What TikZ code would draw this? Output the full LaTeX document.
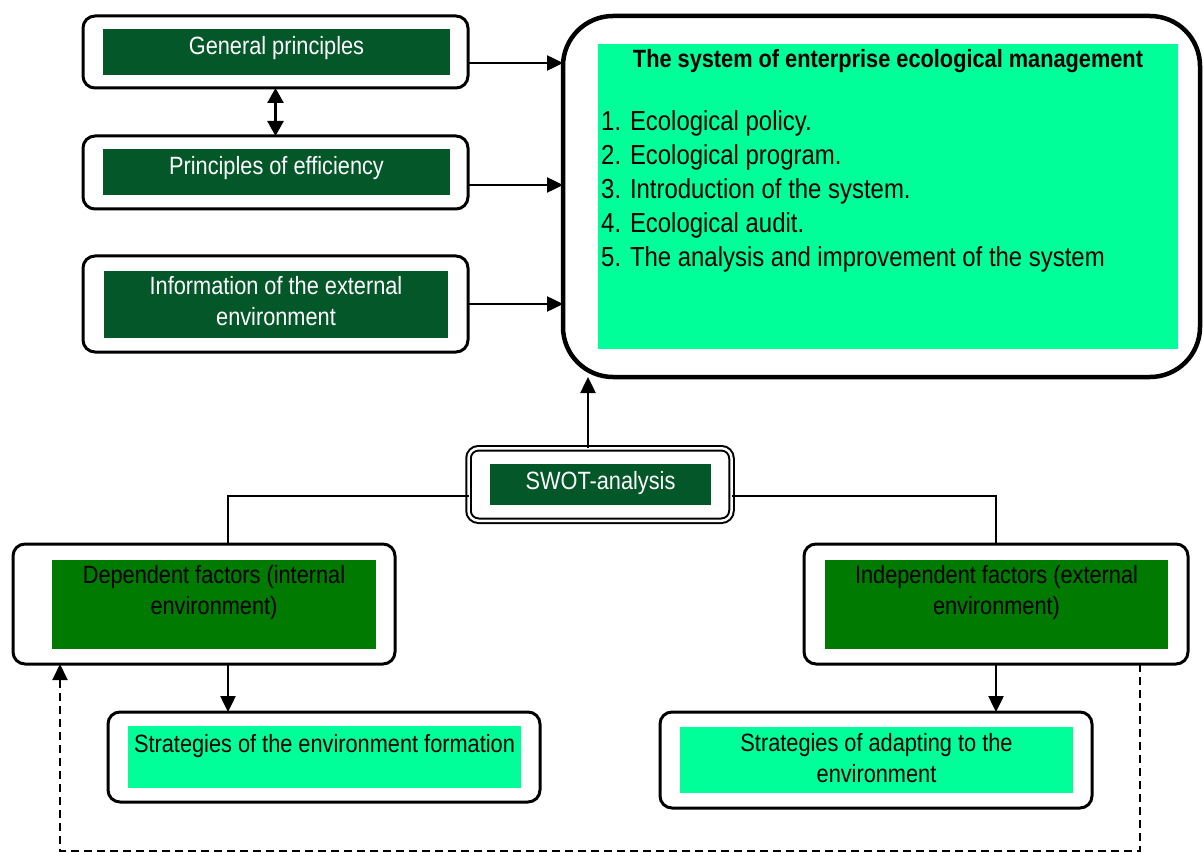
\documentclass[tikz,border=0pt]{standalone}
\usepackage{fontspec}
\setmainfont{Liberation Sans}[FakeStretch=0.87]
\usetikzlibrary{arrows.meta}
\definecolor{dkgreen}{RGB}{3,87,40}
\definecolor{midgreen}{RGB}{0,122,0}
\definecolor{ltgreen}{RGB}{0,255,153}
\begin{document}
\begin{tikzpicture}[x=1pt,y=-1pt,
  outerbox/.style={draw=black, line width=3pt, rounded corners=12pt, fill=white, inner sep=0pt, outer sep=0pt},
  fillbox/.style={draw=none, inner sep=0pt, outer sep=0pt},
  txt/.style={font=\fontsize{25}{31}\selectfont, align=center, anchor=base, inner sep=0pt},
  arr/.style={line width=2.5pt, -{Triangle[length=16pt,width=15pt]}},
  arrboth/.style={line width=2.5pt, {Triangle[length=15pt,width=16pt]}-{Triangle[length=15pt,width=16pt]}},
  link/.style={line width=1.8pt},
  dashlink/.style={line width=2pt, dash pattern=on 8pt off 5pt, -{Triangle[length=16pt,width=15pt]}}]
\useasboundingbox (0,0) rectangle (1203,853);

% ---- top-left boxes ----
\node[outerbox, minimum width=385pt, minimum height=72pt] (gp) at (275.5,52) {};
\node[fillbox, fill=dkgreen, minimum width=347pt, minimum height=46pt] (gpf) at (276.5,52) {};
\node[txt, text=white] (gpt) at (276.5,55) {General principles};

\node[outerbox, minimum width=385pt, minimum height=73pt] (pe) at (275.5,172.5) {};
\node[fillbox, fill=dkgreen, minimum width=347pt, minimum height=46pt] (pef) at (276.5,172) {};
\node[txt, text=white] (pet) at (276.5,175) {Principles of efficiency};

\node[outerbox, minimum width=385pt, minimum height=96pt] (ie) at (275.5,304) {};
\node[fillbox, fill=dkgreen, minimum width=344pt, minimum height=67pt] (ief) at (276,304.5) {};
\node[txt, text=white] (iet) at (276,325) {Information of the external\\environment};

% ---- big box ----
\node[draw=black, line width=4.5pt, rounded corners=50pt, fill=white, inner sep=0pt, outer sep=0pt,
      minimum width=637pt, minimum height=361pt] (big) at (881.5,196.5) {};
\node[fillbox, fill=ltgreen, minimum width=580pt, minimum height=305pt] (bigf) at (888,196.5) {};
\node[txt, font=\bfseries\fontsize{25}{31}\selectfont] (bigt) at (888,68) {The system of enterprise ecological management};
\node[anchor=base west, align=left, inner sep=0pt, font=\fontsize{27.5}{34}\selectfont] (list) at (601,267)
  {1. Ecological policy.\\2. Ecological program.\\3. Introduction of the system.\\4. Ecological audit.\\5. The analysis and improvement of the system};

% ---- SWOT ----
\node[draw=black, double=white, double distance=2.5pt, line width=2pt, rounded corners=10pt, fill=white,
      inner sep=0pt, outer sep=0pt, minimum width=263pt, minimum height=72.5pt] (swot) at (600,484.5) {};
\node[fillbox, fill=dkgreen, minimum width=221pt, minimum height=41pt] (swotf) at (600.5,484.5) {};
\node[txt, text=white] (swott) at (600.5,489) {SWOT-analysis};

% ---- factors ----
\node[outerbox, minimum width=382pt, minimum height=120pt] (dep) at (204,604) {};
\node[fillbox, fill=midgreen, minimum width=324pt, minimum height=89pt] (depf) at (214,604.5) {};
\node[txt] (dept) at (214,614) {Dependent factors (internal\\environment)};

\node[outerbox, minimum width=384pt, minimum height=120pt] (ind) at (996,604) {};
\node[fillbox, fill=midgreen, minimum width=343pt, minimum height=89pt] (indf) at (996.5,604.5) {};
\node[txt] (indt) at (996.5,614) {Independent factors (external\\environment)};

% ---- strategies ----
\node[outerbox, minimum width=432pt, minimum height=90pt] (sf) at (324,757) {};
\node[fillbox, fill=ltgreen, minimum width=393pt, minimum height=62pt] (sff) at (324.5,757) {};
\node[txt] (sft) at (324.5,752) {Strategies of the environment formation};

\node[outerbox, minimum width=432pt, minimum height=96pt] (sa) at (876,760) {};
\node[fillbox, fill=ltgreen, minimum width=393pt, minimum height=66pt] (saf) at (876.5,760) {};
\node[txt] (sat) at (876.5,782) {Strategies of adapting to the\\environment};

% ---- connectors ----
\draw[arr] ([yshift=-11pt]gp.east) -- ([yshift=-11pt]gp.east -| big.west);
\draw[arr] ([yshift=-12.5pt]pe.east) -- ([yshift=-12.5pt]pe.east -| big.west);
\draw[arr] (ie.east) -- (ie.east -| big.west);
\draw[arrboth] (gp.south) -- (pe.north);
\draw[arr] ([xshift=-12pt]swot.north) -- ([xshift=-12pt]swot.north |- big.south);

\draw[link] ([yshift=-11.5pt]swot.west) -| ([xshift=24pt]dep.north);
\draw[link] ([yshift=-11.5pt]swot.east) -| (ind.north);

\draw[arr] ([xshift=24pt]dep.south) -- ([xshift=24pt]dep.south |- sf.north);
\draw[arr] (ind.south) -- (ind.south |- sa.north);

\coordinate (dl) at (60,851);
\draw[dashlink] ([xshift=144pt]ind.south) |- (dl) -- ([xshift=-144pt]dep.south);
\end{tikzpicture}
\end{document}
